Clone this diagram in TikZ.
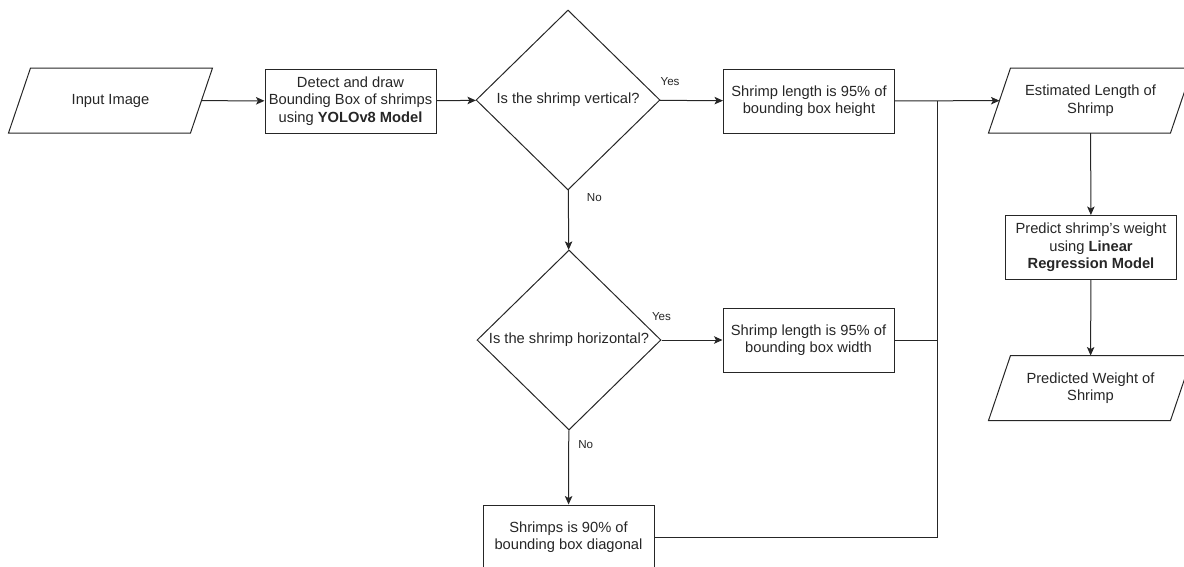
\documentclass[tikz,border=0pt]{standalone}
\usepackage{fontspec}
\setmainfont{Liberation Sans}
\usetikzlibrary{shapes.geometric,arrows.meta}

\tikzset{
  base/.style={draw=black!85, line width=1pt, text=black!85, align=center,
    font=\fontsize{14.7}{17.5}\selectfont, inner sep=2pt},
  procbox/.style={base, rectangle, minimum width=171, minimum height=64},
  iobox/.style={base, draw=none, rectangle, minimum width=181, minimum height=64},
  ioline/.style={draw=black!85, line width=1pt, line join=miter},
  decide/.style={base, diamond, aspect=1, inner sep=0pt, minimum width=184, minimum height=180},
  flow/.style={draw=black!85, line width=1pt, -{Stealth[length=8.5pt,width=7.5pt,inset=2pt]}},
  link/.style={draw=black!85, line width=1pt},
  lbl/.style={font=\fontsize{11.6}{13}\selectfont, text=black!85, inner sep=0pt}
}

\begin{document}
\begin{tikzpicture}[x=1pt, y=-1pt]
  \useasboundingbox (0,0) rectangle (1184,566);

  % Input and detection
  \node[iobox] (input) at (110.5,100.5) {Input Image};
  \node[procbox] (detect) at (350.5,101) {Detect and draw\\Bounding Box of shrimps\\using \textbf{YOLOv8 Model}};

  % Orientation checks
  \node[decide] (vert) at (568,100) {Is the shrimp vertical?};
  \node[decide] (horiz) at (569,340) {Is the shrimp horizontal?};

  % Length rules
  \node[procbox] (height) at (809,101) {Shrimp length is 95\% of\\bounding box height};
  \node[procbox] (width) at (808.5,340) {Shrimp length is 95\% of\\bounding box width};
  \node[procbox] (diag) at (568.5,537) {Shrimps is 90\% of\\bounding box diagonal};
  \coordinate (merge) at (937,101);

  % Output side
  \node[iobox] (est) at (1090.5,100.5) {Estimated Length of\\Shrimp};
  \node[procbox] (predict) at (1091,247.5) {Predict shrimp{\char"27}s weight\\using \textbf{Linear}\\\textbf{Regression Model}};
  \node[iobox] (weight) at (1090.5,388) {Predicted Weight of\\Shrimp};

  % Slanted outlines of the data nodes
  \foreach \n in {input,est,weight}
    \draw[ioline] ([xshift=11]\n.north west) -- ([xshift=11]\n.north east)
      -- ([xshift=-11]\n.south east) -- ([xshift=-11]\n.south west) -- cycle;

  % Connectors
  \draw[flow] (input) -- (detect);
  \draw[flow] (detect) -- (vert);
  \draw[flow] (vert) -- node[lbl, at start, anchor=south west, yshift=14] {Yes} (height);
  \draw[flow] (vert) -- node[lbl, at start, anchor=north west, xshift=18, yshift=-3] {No} (horiz);
  \draw[flow] (horiz) -- node[lbl, at start, anchor=south, yshift=19] {Yes} (width);
  \draw[flow] (horiz) -- node[lbl, at start, anchor=west, xshift=9, yshift=-14] {No} (diag);
  \draw[flow] (height) -- (est);
  \draw[link] (width) -| (merge);
  \draw[link] (diag) -| (merge);
  \draw[flow] (est) -- (predict);
  \draw[flow] (predict) -- (weight);
\end{tikzpicture}
\end{document}
